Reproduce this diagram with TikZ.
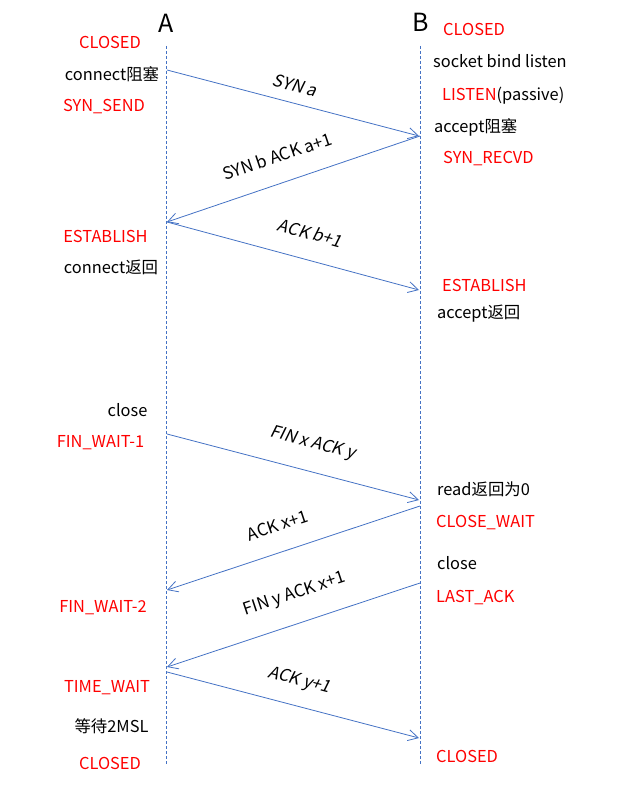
\documentclass[tikz,border=0pt]{standalone}
\usepackage{fontspec}
\setmainfont{Noto Sans CJK SC}
\newfontfamily\slantfont[FakeSlant=0.2]{Noto Sans CJK SC}
\usetikzlibrary{arrows.meta}
\definecolor{lineblue}{HTML}{4472C4}
\definecolor{statered}{HTML}{FF0000}
\begin{document}
\begin{tikzpicture}[x=1pt,y=-1pt,
  every node/.style={inner sep=0pt, text height=11.9pt, text depth=0pt, font=\fontsize{16.4}{19}\selectfont},
  state/.style={text=statered},
  act/.style={text=black},
  head/.style={font=\fontsize{25}{30}\selectfont, text height=18pt},
  life/.style={draw=lineblue, dash pattern=on 3pt off 2pt, line width=0.7pt},
  msg/.style={draw=lineblue, line width=0.8pt, -{Straight Barb[length=10pt,width=11pt]}},
  msglab/.style={sloped, above=11pt, font=\fontsize{17}{20}\selectfont},
  slab/.style={msglab, font=\fontsize{17}{20}\slantfont}
]
\useasboundingbox (0,0) rectangle (640,791);

% headers
\node[head] (A) at (166,24) {A};
\node[head] (B) at (421,23) {B};

% lifelines
\coordinate (atop) at (166.5,46);
\coordinate (abot) at (166.5,765);
\coordinate (btop) at (420.5,46);
\coordinate (bbot) at (420.5,765);
\draw[life] (atop) -- (abot);
\draw[life] (btop) -- (bbot);

% A side states
\node[state] (aclosed) at (110,43) {CLOSED};
\node[act] (aconnect) at (112,75) {connect阻塞};
\node[state] (asynsend) at (104,106) {SYN\_SEND};
\node[state] (aestab) at (105.5,237) {ESTABLISH};
\node[act] (aconnret) at (111,268) {connect返回};
\node[act] (aclose) at (127.5,411) {close};
\node[state] (afw1) at (100.5,442) {FIN\_WAIT-1};
\node[state] (afw2) at (103,607) {FIN\_WAIT-2};
\node[state] (atw) at (107,687) {TIME\_WAIT};
\node[act] (await) at (111.5,727) {等待2MSL};
\node[state] (aclosed2) at (110,764) {CLOSED};

% B side states
\node[state, anchor=west] (bclosed) at (443,30) {CLOSED};
\node[act, anchor=west] (bsocket) at (433,62) {socket bind listen};
\node[act, anchor=west] (blisten) at (442,95) {\textcolor{statered}{LISTEN}(passive)};
\node[act, anchor=west] (baccept) at (434,127) {accept阻塞};
\node[state, anchor=west] (bsynrecvd) at (443,158) {SYN\_RECVD};
\node[state, anchor=west] (bestab) at (442,286) {ESTABLISH};
\node[act, anchor=west] (bacceptret) at (437,313) {accept返回};
\node[act, anchor=west] (bread) at (437,490) {read返回为0};
\node[state, anchor=west] (bclosewait) at (436,522) {CLOSE\_WAIT};
\node[act, anchor=west] (bclose) at (437,564) {close};
\node[state, anchor=west] (blastack) at (436,597) {LAST\_ACK};
\node[state, anchor=west] (bclosed2) at (436,757) {CLOSED};

% message endpoints
\coordinate (a1) at (167,70);
\coordinate (b1) at (419,136);
\coordinate (b2) at (420,136);
\coordinate (a2) at (167,222);
\coordinate (a3) at (167,222);
\coordinate (b3) at (419,290);
\coordinate (a4) at (167,434);
\coordinate (b4) at (419,500);
\coordinate (b5) at (420,506);
\coordinate (a5) at (167,590);
\coordinate (b6) at (420,583);
\coordinate (a6) at (167,667);
\coordinate (a7) at (167,672);
\coordinate (b7) at (419,738);

\draw[msg] (a1) -- node[slab, pos=0.49] (m1) {SYN a} (b1);
\draw[msg] (b2) -- node[msglab, pos=0.53, above=9pt] (m2) {SYN b ACK a+1} (a2);
\draw[msg] (a3) -- node[slab, pos=0.54, above=9pt] (m3) {ACK b+1} (b3);
\draw[msg] (a4) -- node[slab, pos=0.55, above=12pt] (m4) {FIN x ACK y} (b4);
\draw[msg] (b5) -- node[msglab, pos=0.53, above=9pt] (m5) {ACK x+1} (a5);
\draw[msg] (b6) -- node[msglab, pos=0.46, above=13pt] (m6) {FIN y ACK x+1} (a6);
\draw[msg] (a7) -- node[slab, pos=0.5, above=9pt] (m7) {ACK y+1} (b7);
\end{tikzpicture}
\end{document}
